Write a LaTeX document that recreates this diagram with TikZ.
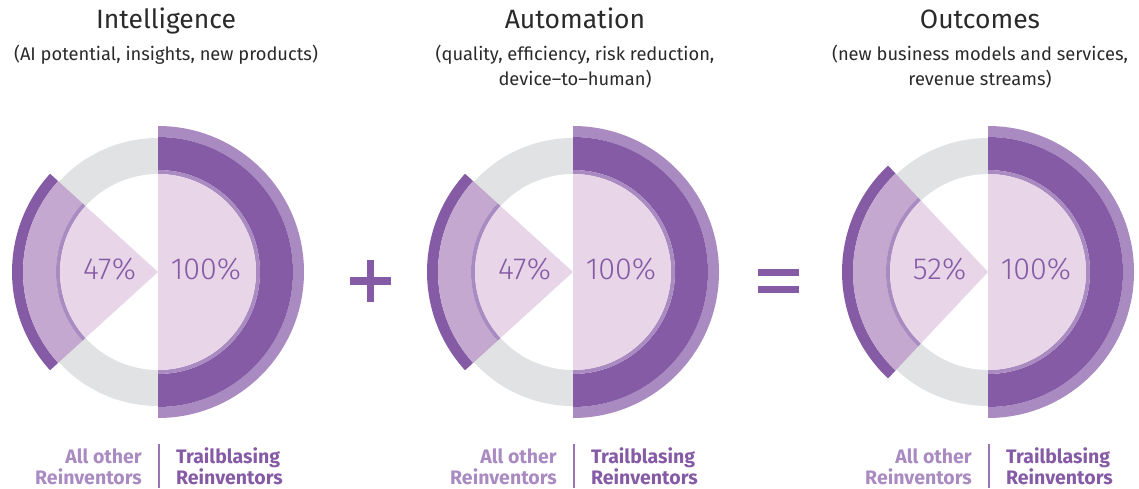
\documentclass[tikz,border=0pt]{standalone}
\usepackage{fontspec}
\setmainfont{Fira Sans}
\newfontfamily\pctfont{Fira Sans Light}

\definecolor{plum}{HTML}{855BA6}
\definecolor{lilac}{HTML}{A98BC2}
\definecolor{mauve}{HTML}{C4A8CF}
\definecolor{blush}{HTML}{E8D5E8}
\definecolor{mist}{HTML}{E1E2E4}
\definecolor{ink}{HTML}{2A2A2A}

% ring band: colour, from angle, to angle, inner radius, outer radius
\newcommand{\ring}[5]{%
  \fill[#1] (#2:#5) arc[start angle=#2, end angle=#3, radius=#5]
    -- (#3:#4) arc[start angle=#3, end angle=#2, radius=#4] -- cycle;}

\begin{document}
\begin{tikzpicture}[x=1pt,y=1pt,
  title/.style={font=\fontsize{26.5}{31}\selectfont, text=ink, inner sep=0pt, anchor=base},
  sub/.style={font=\fontsize{18.3}{25}\selectfont, text=ink, inner sep=0pt, anchor=base},
  pct/.style={font=\pctfont\fontsize{30.5}{34}\selectfont, text=plum, inner sep=0pt, anchor=base},
  other/.style={font=\bfseries\fontsize{19.5}{21}\selectfont, text=lilac, inner sep=0pt, align=right, anchor=base east},
  trail/.style={font=\bfseries\fontsize{19.5}{21}\selectfont, text=plum, inner sep=0pt, align=left, anchor=base west},
  sep/.style={draw=lilac!55!plum, line width=2pt},
  sign/.style={fill=plum}]
\useasboundingbox (0,0) rectangle (1139,-489);

% Headings
\node[title] (intel) at (166,-29) {Intelligence};
\node[sub] (intel-sub) at (166,-61) {(AI potential, insights, new products)};
\node[title] (auto) at (575,-29) {Automation};
\node[sub] (auto-sub) at (575,-61) {(quality, efficiency, risk reduction,};
\node[sub] (auto-sub2) at (575,-86) {device--to--human)};
\node[title] (out) at (980,-29) {Outcomes};
\node[sub] (out-sub) at (980,-61) {(new business models and services,};
\node[sub] (out-sub2) at (980,-86) {revenue streams)};

% Donuts
\foreach \cx/\half/\val/\nm in {158/42.3/47/intel, 573/42.3/47/auto, 988/46.8/52/out}{
  \begin{scope}[shift={(\cx,-272)}]
    % grey ring, left half
    \ring{mist}{90}{270}{98}{134}
    % Trailblazing half
    \ring{lilac}{-90}{90}{135}{146}
    \ring{plum}{-90}{90}{102}{135}
    \ring{lilac}{-90}{90}{98}{102}
    \fill[blush] (0,0) -- (-90:98) arc[start angle=-90, end angle=90, radius=98] -- cycle;
    % other Reinventors wedge
    \ring{plum}{180-\half}{180+\half}{135}{146}
    \ring{mauve}{180-\half}{180+\half}{102}{135}
    \ring{lilac}{180-\half}{180+\half}{98}{102}
    \fill[blush] (0,0) -- (180-\half:98) arc[start angle=180-\half, end angle=180+\half, radius=98] -- cycle;
    \node[pct] (\nm-val) at (-48.5,-7.5) {\val\%};
    \node[pct] (\nm-full) at (48,-7.5) {100\%};
    % legend
    \coordinate (\nm-top) at (1,-172);
    \coordinate (\nm-bot) at (1,-216);
    \draw[sep] (\nm-top) -- (\nm-bot);
    \node[other] (\nm-all) at (-16,-212) {All other\\Reinventors};
    \node[trail] (\nm-tb) at (18,-212) {Trailblasing\\Reinventors};
  \end{scope}
}

% Operators
\fill[sign] (350,-277) rectangle (391,-284.6);
\fill[sign] (366.8,-260) rectangle (374.4,-302);
\fill[sign] (758,-269.3) rectangle (799,-275.9);
\fill[sign] (758,-285.5) rectangle (799,-292.5);
\end{tikzpicture}
\end{document}
